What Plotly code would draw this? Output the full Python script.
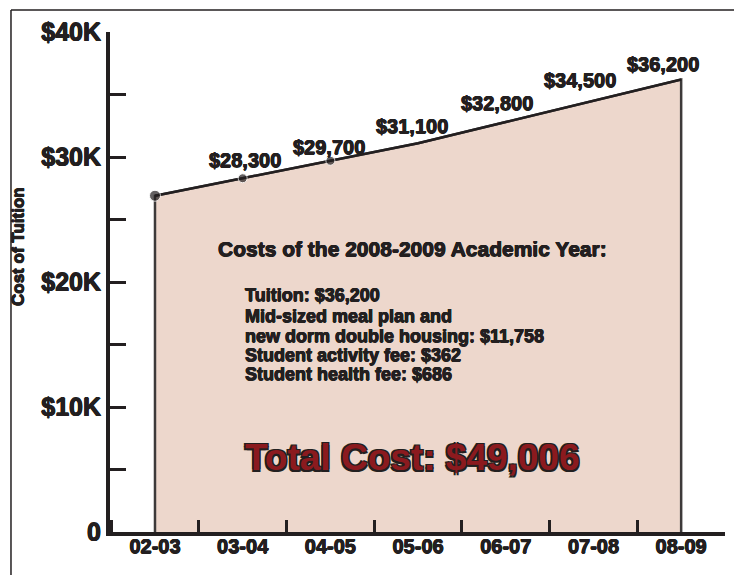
import plotly.graph_objects as go

# ---- data ----
years = ["02-03", "03-04", "04-05", "05-06", "06-07", "07-08", "08-09"]
tuition = [26900, 28300, 29700, 31100, 32800, 34500, 36200]
point_labels = ["", "$28,300", "$29,700", "$31,100", "$32,800", "$34,500", "$36,200"]
marker_sizes = [11, 9, 9, 0, 0, 0, 0]

y_tick_vals = [0, 10000, 20000, 30000, 40000]
y_tick_text = ["0", "$10K", "$20K", "$30K", "$40K"]

heading = "Costs of the 2008-2009 Academic Year:"
cost_lines = [
    "Tuition: $36,200",
    "Mid-sized meal plan and",
    "new dorm double housing: $11,758",
    "Student activity fee: $362",
    "Student health fee: $686",
]
total_text = "Total Cost: $49,006"
y_title = "Cost of Tuition"

# label offsets (pixels) relative to each point
label_dx = [0, 2, -1, -6, -9, -13, -18]
label_dy = [0, 18, 14, 17, 19, 21, 16]

INK = "#231f20"
FILL = "#EDD7CC"
RED = "#8B1A1E"
FONT = "Liberation Sans, Arial, sans-serif"
HEAVY = "0.5px 0 0 #231f20, -0.5px 0 0 #231f20, 0 0.5px 0 #231f20, 0 -0.5px 0 #231f20"


def f(size, color=INK, shadow=HEAVY):
    return dict(family=FONT, size=size, color=color, weight="bold", shadow=shadow)


fig = go.Figure()

# filled area with outlined edges
fig.add_trace(go.Scatter(
    x=[years[0]] + years + [years[-1]],
    y=[0] + tuition + [0],
    fill="toself", fillcolor=FILL,
    mode="lines", line=dict(color="#3d3a3a", width=2.5),
    hoverinfo="skip", showlegend=False,
))

# top line with markers
fig.add_trace(go.Scatter(
    x=years, y=tuition,
    mode="lines+markers",
    line=dict(color=INK, width=2.5),
    marker=dict(size=marker_sizes, color=INK),
    showlegend=False,
))

fig.update_xaxes(
    type="category",
    range=[-0.513, 6.5],
    showline=True, linecolor=INK, linewidth=4,
    ticks="inside", tickson="boundaries", ticklen=12, tickwidth=3, tickcolor=INK,
    ticklabelstandoff=-7,
    tickfont=f(20),
    showgrid=False, zeroline=False,
)
fig.update_yaxes(
    range=[0, 40000],
    showline=True, linecolor=INK, linewidth=4,
    tickvals=y_tick_vals, ticktext=y_tick_text,
    ticks="inside", ticklen=16, tickwidth=3, tickcolor=INK,
    minor=dict(ticks="inside", dtick=5000, ticklen=16, tickwidth=3, tickcolor=INK, showgrid=False),
    tickfont=f(25),
    showgrid=False, zeroline=False,
)

annotations = []
for yr, val, lab, dx, dy in zip(years, tuition, point_labels, label_dx, label_dy):
    if not lab:
        continue
    annotations.append(dict(text=lab, x=yr, y=val, xref="x", yref="y", showarrow=False,
                            xanchor="center", yanchor="middle", xshift=dx, yshift=dy,
                            font=f(20)))

annotations.append(dict(text=heading, x=2.94, y=22720, xref="x", yref="y", showarrow=False,
                        xanchor="center", yanchor="middle", font=f(21)))
line_y = [18960, 17280, 15680, 14160, 12640]
for txt, yy in zip(cost_lines, line_y):
    annotations.append(dict(text=txt, x=1, y=yy, xref="x", yref="y", showarrow=False,
                            xanchor="left", yanchor="middle", font=f(18)))
annotations.append(dict(
    text=total_text, x=1, y=6000, xref="x", yref="y", showarrow=False,
    xanchor="left", yanchor="middle",
    font=f(37, RED, "-1.5px -1.5px 0 #231f20, 1.5px -1.5px 0 #231f20, "
                    "-1.5px 1.5px 0 #231f20, 1.5px 1.5px 0 #231f20"),
))
annotations.append(dict(
    text=y_title, x=-0.1496, y=0.572, xref="paper", yref="paper", showarrow=False,
    textangle=-90, xanchor="center", yanchor="middle", font=f(17),
))

shapes = [
    dict(type="line", xref="paper", yref="paper", x0=-0.161, y0=1.044, x1=1.02, y1=1.044,
         line=dict(color=INK, width=1.5)),
    dict(type="line", xref="paper", yref="paper", x0=-0.161, y0=1.044, x1=-0.161, y1=-0.1,
         line=dict(color=INK, width=1.5)),
]

fig.update_layout(
    width=734, height=575,
    margin=dict(l=110, r=9, t=32, b=43),
    paper_bgcolor="white", plot_bgcolor="white",
    annotations=annotations, shapes=shapes,
    showlegend=False,
)

fig.write_html("out.html")
